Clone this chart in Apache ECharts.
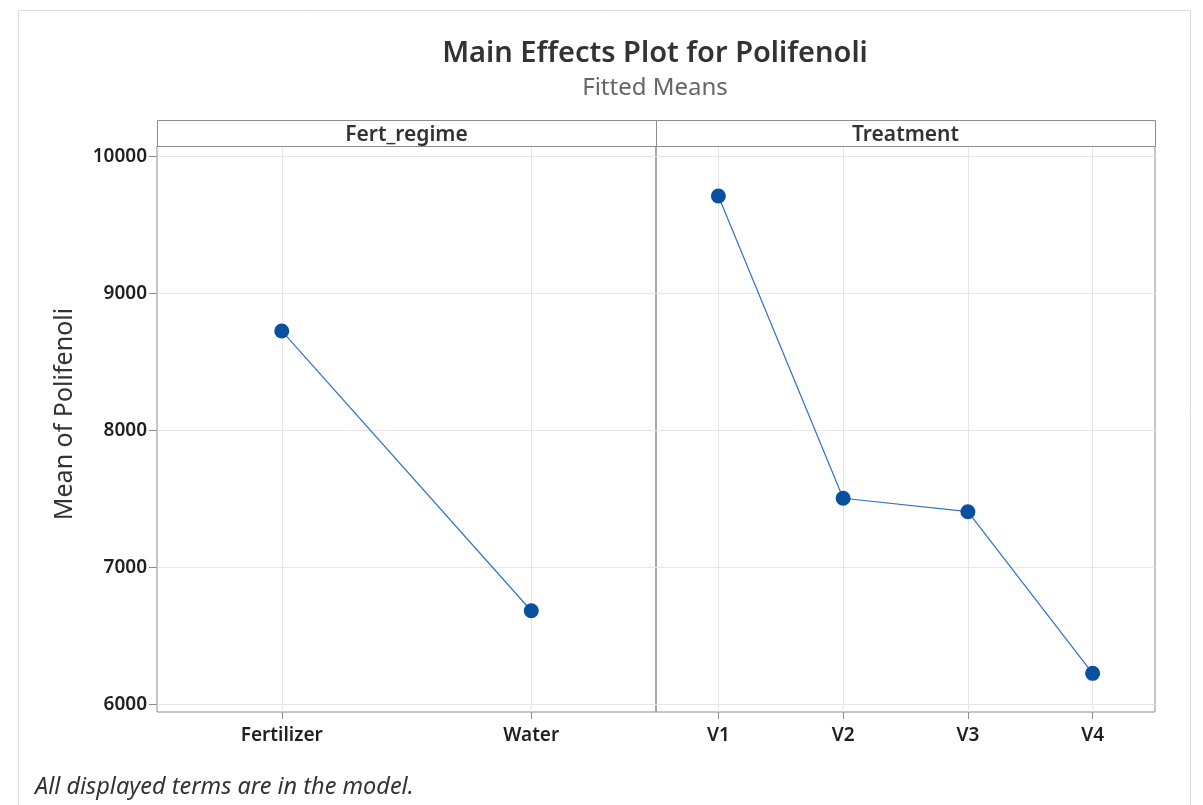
<!DOCTYPE html>
<html>
<head>
<meta charset="utf-8">
<script src="https://cdn.jsdelivr.net/npm/echarts@6/dist/echarts.min.js"></script>
<style>
  html, body { margin: 0; padding: 0; background: #fff; }
  #chart { width: 1203px; height: 805px; }
</style>
</head>
<body>
<div id="chart"></div>
<script>
// Factor levels and fitted means of Polifenoli
const fertLevels = ['Fertilizer', 'Water'];
const fertMeans = [8728, 6686];
const treatLevels = ['V1', 'V2', 'V3', 'V4'];
const treatMeans = [9713, 7507, 7409, 6229];
const yTicks = [6000, 7000, 8000, 9000, 10000];
const panelNames = ['Fert_regime', 'Treatment'];

const FONT = '"Noto Sans", "Open Sans", sans-serif';
const BORDER = '#8c8c8c';
const GRIDLINE = '#e6e6e6';
const LINE_BLUE = '#2f72c2';
const DOT_BLUE = '#0a4fa0';

// panel geometry (pixels)
const plotTop = 146, plotBottom = 712, stripTop = 120;
const x0 = 157, xMid = 656, x1 = 1155;
const W = 1203, H = 805;

const chart = echarts.init(document.getElementById('chart'), null, { renderer: 'canvas' });

function yAxis(gridIndex, showLabels) {
  return {
    type: 'value', gridIndex,
    min: 5947, max: 10078,
    axisLine: { show: false },
    axisTick: { show: showLabels, customValues: yTicks, length: 8, lineStyle: { color: BORDER } },
    axisLabel: {
      show: showLabels, customValues: yTicks, margin: 10,
      formatter: v => String(v),
      fontFamily: FONT, fontSize: 19, fontWeight: 600, color: '#1f1f1f'
    },
    splitLine: { show: true, lineStyle: { color: GRIDLINE, width: 1 } },
    name: showLabels ? 'Mean of Polifenoli' : '',
    nameLocation: 'middle', nameGap: 80, nameRotate: 90,
    nameTextStyle: { fontFamily: FONT, fontSize: 25, color: '#333', padding: [0, 0, 0, 30] }
  };
}

function xAxis(gridIndex, cats) {
  return {
    type: 'category', gridIndex, data: cats, boundaryGap: true,
    axisLine: { show: false },
    axisTick: { show: true, alignWithLabel: true, length: 7, lineStyle: { color: BORDER } },
    axisLabel: { margin: 14, fontFamily: FONT, fontSize: 19, fontWeight: 600, color: '#1f1f1f' },
    splitLine: { show: true, alignWithLabel: true, lineStyle: { color: GRIDLINE, width: 1 } }
  };
}

function effectSeries(idx, values) {
  return {
    type: 'line', xAxisIndex: idx, yAxisIndex: idx, data: values,
    symbol: 'circle', symbolSize: 15,
    lineStyle: { color: LINE_BLUE, width: 1.2 },
    itemStyle: { color: DOT_BLUE },
    emphasis: { disabled: true }, animation: false, z: 3
  };
}

function strip(xa, xb, label) {
  return [
    { type: 'rect', shape: { x: xa + 0.5, y: stripTop + 0.5, width: xb - xa, height: plotTop - stripTop },
      style: { fill: '#fff', stroke: BORDER, lineWidth: 1 }, z: 10 },
    { type: 'text', x: (xa + xb) / 2, y: (stripTop + plotTop) / 2 + 2,
      style: { text: label, align: 'center', verticalAlign: 'middle',
               font: '600 21px ' + FONT, fill: '#333' }, z: 11 }
  ];
}

chart.setOption({
  backgroundColor: '#fff',
  animation: false,
  title: {
    text: 'Main Effects Plot for Polifenoli',
    subtext: 'Fitted Means',
    left: (x0 + x1) / 2 - 6, textAlign: 'center', top: 34, itemGap: 8,
    textStyle: { fontFamily: FONT, fontSize: 29, fontWeight: 600, color: '#333' },
    subtextStyle: { fontFamily: FONT, fontSize: 24, color: '#666' }
  },
  grid: [
    { left: x0, right: W - xMid, top: plotTop, bottom: H - plotBottom,
      show: true, borderColor: BORDER, borderWidth: 1, backgroundColor: 'transparent' },
    { left: xMid, right: W - x1, top: plotTop, bottom: H - plotBottom,
      show: true, borderColor: BORDER, borderWidth: 1, backgroundColor: 'transparent' }
  ],
  xAxis: [xAxis(0, fertLevels), xAxis(1, treatLevels)],
  yAxis: [yAxis(0, true), yAxis(1, false)],
  series: [effectSeries(0, fertMeans), effectSeries(1, treatMeans)],
  graphic: [
    { type: 'rect', shape: { x: 18.5, y: 10.5, width: 1172, height: 820 },
      style: { fill: 'none', stroke: '#dcdcdc', lineWidth: 1 }, z: -1, silent: true },
    ...strip(x0, xMid, panelNames[0]),
    ...strip(xMid, x1, panelNames[1]),
    { type: 'text', x: 35, y: 787,
      style: { text: 'All displayed terms are in the model.', verticalAlign: 'middle',
               font: 'italic 23.5px ' + FONT, fill: '#333' } }
  ]
});
</script>
</body>
</html>
